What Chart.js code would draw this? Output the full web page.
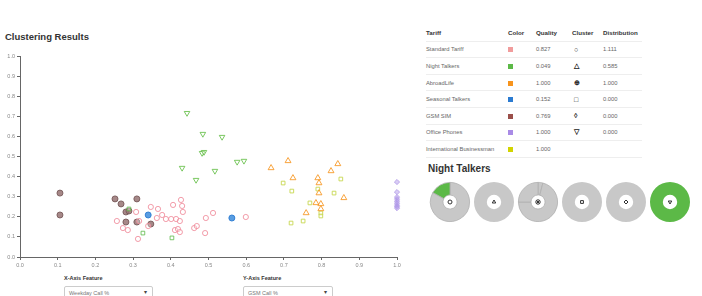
<!DOCTYPE html>
<html><head><meta charset="utf-8">
<script src="https://cdn.jsdelivr.net/npm/chart.js@4.4.0/dist/chart.umd.min.js"></script>
<style>
body{margin:0;width:702px;height:296px;background:#fff;font-family:"Liberation Sans",Arial,sans-serif;position:relative;overflow:hidden}
.abs{position:absolute}
#title{left:5px;top:31px;font-size:9.5px;font-weight:bold;color:#333}
#sub{left:428px;top:163px;font-size:10px;font-weight:bold;color:#333}
.lab{font-size:5.5px;font-weight:bold;color:#333}
.sel{font-size:5.5px;color:#777;border:1px solid #ccc;border-radius:2px;height:12px;box-sizing:border-box;padding:3px 4px}
.sel span{position:absolute;right:5px;top:2px;color:#444}
table{border-collapse:collapse;font-size:5.8px;color:#666}
td,th{height:15.6px;padding:0;text-align:left;border-bottom:1px solid #eee;font-weight:normal}
th{color:#333;font-size:6.2px;font-weight:600}
.sw{display:inline-block;width:5px;height:5px;vertical-align:middle}
</style></head><body>
<div id="title" class="abs">Clustering Results</div>
<canvas id="sc" class="abs" style="left:0;top:0" width="410" height="275"></canvas>
<div id="tbl" class="abs" style="left:426px;top:25px"></div>
<div id="sub" class="abs">Night Talkers</div>
<div id="donuts"></div>
<div class="abs lab" style="left:64px;top:275px">X-Axis Feature</div>
<div class="abs sel" style="left:64px;top:286px;width:89px">Weekday Call %<span>▾</span></div>
<div class="abs lab" style="left:243px;top:275px">Y-Axis Feature</div>
<div class="abs sel" style="left:243px;top:286px;width:90px">GSM Call %<span>▾</span></div>
<script>
// ---- data ----
const tariffs = ["Standard Tariff","Night Talkers","AbroadLife","Seasonal Talkers","GSM SIM","Office Phones","International Businessman"];
const tariffColors = ["#f19c9c","#5cb947","#f7941d","#2b7bd1","#9a4f4a","#a98be6","#d2d400"];
const quality = ["0.827","0.049","1.000","0.152","0.769","1.000","1.000"];
const clusterSymbols = ["○","△","⊕","□","◊","▽"];
const distribution = ["1.111","0.585","1.000","0.000","0.000","0.000"];
const tickLabels = ["0.0","0.1","0.2","0.3","0.4","0.5","0.6","0.7","0.8","0.9","1.0"];

const standardTariff = [[0.308,0.224],[0.347,0.249],[0.366,0.239],[0.377,0.209],[0.406,0.259],[0.427,0.284],[0.430,0.254],[0.432,0.224],[0.257,0.179],[0.273,0.144],[0.286,0.134],[0.316,0.179],[0.340,0.154],[0.363,0.194],[0.387,0.189],[0.401,0.189],[0.414,0.189],[0.424,0.179],[0.313,0.090],[0.411,0.134],[0.419,0.139],[0.424,0.124],[0.462,0.144],[0.469,0.154],[0.493,0.194],[0.512,0.219],[0.491,0.119],[0.599,0.199]];
const nightTalkersC6 = [[0.443,0.716],[0.485,0.612],[0.536,0.597],[0.483,0.517],[0.488,0.522],[0.430,0.443],[0.517,0.428],[0.467,0.383],[0.576,0.473],[0.594,0.478]];
const nightTalkersC1 = [[0.326,0.119],[0.403,0.095],[0.289,0.239]];
const abroadLife = [[0.666,0.443],[0.711,0.478],[0.724,0.393],[0.790,0.393],[0.793,0.368],[0.793,0.318],[0.825,0.428],[0.843,0.463],[0.859,0.294],[0.785,0.269],[0.798,0.264],[0.798,0.239],[0.759,0.219]];
const seasonalTalkers = [[0.340,0.209],[0.562,0.194]];
const gsmSim = [[0.106,0.318],[0.106,0.209],[0.252,0.289],[0.268,0.264],[0.310,0.289],[0.281,0.224],[0.289,0.229],[0.281,0.174],[0.310,0.174],[0.347,0.164]];
const officePhones = [[1.0,0.373],[1.0,0.323],[1.0,0.298],[1.0,0.288],[1.0,0.278],[1.0,0.268],[1.0,0.258],[1.0,0.250],[1.0,0.243]];
const intlBusinessman = [[0.698,0.368],[0.721,0.328],[0.851,0.388],[0.833,0.318],[0.790,0.338],[0.769,0.269],[0.798,0.219],[0.798,0.204],[0.719,0.169],[0.751,0.179]];

// donut: shares per cluster (others in gray, Night Talkers in green)
const donutOther = [[0.83],[1],[0.04,0.71,0.25],[1],[1],[]];
const donutNight = [0.17,0,0,0,0,1];

// ---- table ----
let h = '<table style="width:216px"><tr><th style="width:82px">Tariff</th><th style="width:28px">Color</th><th style="width:36px">Quality</th><th style="width:31px">Cluster</th><th>Distribution</th></tr>';
tariffs.forEach((t,i)=>{
  h += `<tr><td>${t}</td><td><span class="sw" style="background:${tariffColors[i]}"></span></td><td>${quality[i]}</td><td style="color:#222;font-size:7px;font-weight:bold;padding-left:2px">${clusterSymbols[i]||''}</td><td>${distribution[i]||''}</td></tr>`;
});
h += '</table>';
document.getElementById('tbl').innerHTML = h;

// ---- scatter ----
const pts = a => a.map(p=>({x:p[0],y:p[1]}));
const tickFont = {family:'"Liberation Sans",Arial,sans-serif',size:5.5};
const axis = (fit) => ({
  type:'linear',min:0,max:1,
  ticks:{stepSize:0.1,font:tickFont,color:'#888',padding:2,callback:(v)=>tickLabels[Math.round(v*10)]},
  grid:{drawOnChartArea:false,tickLength:3,color:'#666'},
  border:{color:'#666',width:1},
  afterFit:fit
});
const base = {clip:false,borderWidth:1,backgroundColor:'rgba(255,255,255,0.3)'};
new Chart(document.getElementById('sc'),{
  type:'scatter',
  data:{datasets:[
    {...base,data:pts(standardTariff),pointStyle:'circle',radius:2.6,borderColor:'rgba(240,140,155,0.85)'},
    {...base,data:pts(nightTalkersC1),pointStyle:'rect',radius:2.6,borderColor:'rgba(92,185,71,0.8)'},
    {...base,data:pts(nightTalkersC6),pointStyle:'triangle',rotation:180,radius:3.2,borderColor:'rgba(100,190,70,0.85)'},
    {...base,data:pts(abroadLife),pointStyle:'triangle',radius:3.4,borderColor:'rgba(247,148,29,0.85)'},
    {...base,data:pts(intlBusinessman),pointStyle:'rect',radius:2.6,borderColor:'rgba(200,215,80,0.9)'},
    {...base,data:pts(gsmSim),pointStyle:'circle',radius:3,borderColor:'rgba(120,90,90,0.9)',backgroundColor:'rgba(150,115,115,0.85)'},
    {...base,data:pts(seasonalTalkers),pointStyle:'circle',radius:3,borderColor:'rgba(43,123,209,0.9)',backgroundColor:'rgba(60,140,220,0.85)'},
    {...base,data:pts(officePhones),pointStyle:'rectRot',radius:2.6,borderColor:'rgba(170,145,230,0.7)',backgroundColor:'rgba(180,155,235,0.5)'}
  ]},
  options:{
    responsive:false,animation:false,
    layout:{padding:{top:56,right:13,left:0,bottom:0}},
    plugins:{legend:{display:false},tooltip:{enabled:false}},
    scales:{
      x:axis(s=>{s.height=18;}),
      y:axis(s=>{s.width=20;})
    }
  }
});

// ---- donuts ----
const cStyles = ['circle','triangle','crossRot','rect','rectRot','triangle'];
const centerMark = {
  id:'centerMark',
  afterDraw(chart){
    const i = chart.options.plugins.centerMark.idx;
    const a = chart.chartArea, ctx = chart.ctx;
    const cx=(a.left+a.right)/2, cy=(a.top+a.bottom)/2;
    ctx.save();
    ctx.strokeStyle='#333';ctx.fillStyle='#fff';ctx.lineWidth=1;
    Chart.helpers.drawPoint(ctx,{pointStyle:cStyles[i],radius:2,rotation:i===5?180:0,borderWidth:1},cx,cy);
    if(i===2){ctx.beginPath();ctx.arc(cx,cy,2.2,0,Math.PI*2);ctx.stroke();}
    ctx.restore();
  }
};
const dwrap = document.getElementById('donuts');
for(let i=0;i<6;i++){
  const c=document.createElement('canvas');
  c.width=44;c.height=44;c.className='abs';
  c.style.left=(428+i*44)+'px';c.style.top='180px';
  dwrap.appendChild(c);
  const all=[...donutOther[i],donutNight[i]];
  const vals=all.filter(v=>v>0);
  const cols=[...donutOther[i].map(()=>'#c8c8c8'),'#5cb947'].filter((c,k)=>all[k]>0);
  new Chart(c,{type:'doughnut',
    data:{datasets:[{data:vals,backgroundColor:cols,borderColor:'#b0b0b0',borderWidth:vals.length>1?0.8:0}]},
    options:{responsive:false,animation:false,cutout:'36%',layout:{padding:2},
      plugins:{legend:{display:false},tooltip:{enabled:false},centerMark:{idx:i}}},
    plugins:[centerMark]
  });
}
</script>
</body></html>
